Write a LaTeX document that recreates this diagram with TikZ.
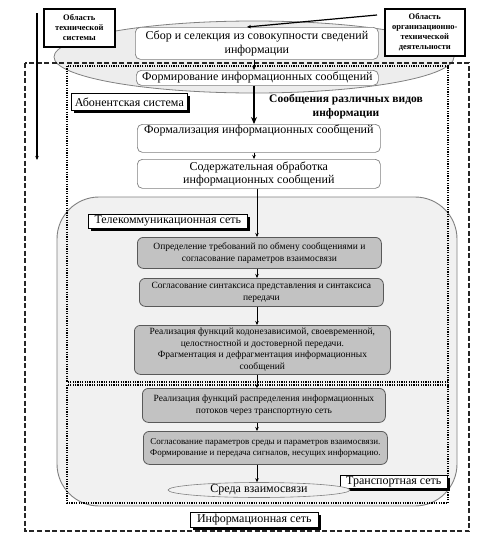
\documentclass[tikz,border=0pt]{standalone}
\usepackage{fontspec}
\setmainfont{Liberation Serif}
\newfontfamily\lserif{Liberation Serif}
\usetikzlibrary{arrows.meta,shadows,shapes.geometric,calc}
\definecolor{ellfill}{HTML}{EDEDED}
\definecolor{regfill}{HTML}{F1F1F1}
\definecolor{grayfill}{HTML}{C2C2C2}
\definecolor{edgegray}{HTML}{808080}
\begin{document}
\begin{tikzpicture}[x=1pt,y=-1pt,
  every node/.style={font=\lserif},
  whitebox/.style={draw=edgegray, fill=white, rounded corners=5pt, align=center, inner sep=0.5pt, anchor=north west, line width=0.7pt, font=\lserif\fontsize{12}{13.5}\selectfont},
  graybox/.style={draw=black!65, fill=grayfill, rounded corners=6pt, align=center, inner sep=0.5pt, anchor=north west, line width=0.8pt, font=\lserif\fontsize{9.5}{11.5}\selectfont},
  tagbox/.style={draw=black, fill=white, inner sep=1pt, anchor=north west, line width=0.6pt, drop shadow={shadow xshift=2.5pt, shadow yshift=-2.5pt, fill=black, opacity=1}, font=\lserif\fontsize{12}{13}\selectfont},
  areabox/.style={draw=black, line width=1.6pt, fill=white, align=center, anchor=north west, inner sep=1pt, font=\lserif\bfseries\fontsize{8.5}{10}\selectfont},
  arr/.style={-{Stealth[length=4pt,width=3.5pt]}, line width=0.6pt},
  bigarr/.style={-{Stealth[length=7pt,width=6pt]}, line width=2.2pt},
  dashframe/.style={draw=black!85, line width=1.4pt, dash pattern=on 5pt off 2.5pt},
  dotframe/.style={draw=black, line width=1.3pt, dash pattern=on 1.2pt off 1.2pt},
]
\useasboundingbox (0,0) rectangle (493,541);

% telecom region
\draw[draw=edgegray, fill=regfill, line width=0.9pt, rounded corners=42pt] (57,197) rectangle (457,506);

% top ellipse
\node[ellipse, draw=edgegray, fill=ellfill, line width=0.8pt, minimum width=400pt, minimum height=72pt, inner sep=0pt] (topell) at (254,57) {};

% frames
\draw[dashframe] (25,63) rectangle (469,531);
\draw[dotframe] (67,66) rectangle (448,382);
\draw[dotframe] (67,385) rectangle (448,503);

% axes for vertical arrows
\coordinate (axA) at (254,0);
\coordinate (axB) at (257,0);

% white boxes
\node[whitebox, minimum width=243pt, minimum height=32pt] (sbor) at (135,27) {Сбор и селекция из совокупности сведений\\информации};
\node[whitebox, minimum width=242pt, minimum height=15pt] (form) at (136,70) {Формирование информационных сообщений};
\node[whitebox, minimum width=243pt, minimum height=28pt] (formal) at (137,124) {Формализация информационных сообщений\\\strut};
\node[whitebox, minimum width=243pt, minimum height=29pt] (sod) at (137,159) {Содержательная обработка\\информационных сообщений};

% tags
\node[tagbox, minimum width=116pt, minimum height=17pt] (abon) at (71,93) {Абонентская система};
\node[tagbox, minimum width=159pt, minimum height=14pt] (tel) at (88,214) {Телекоммуникационная сеть};
\node[tagbox, minimum width=107pt, minimum height=13pt] (trans) at (340,475) {Транспортная сеть};
\node[tagbox, minimum width=128pt, minimum height=15pt] (info) at (190,512) {Информационная сеть};

% message label
\node[align=center, font=\lserif\bfseries\fontsize{11.5}{14}\selectfont, inner sep=0pt] (msg) at (346,107) {Сообщения различных видов\\информации};

% gray boxes
\node[graybox, minimum width=244pt, minimum height=31pt] (g1) at (137,237) {Определение требований по обмену сообщениями и\\согласование параметров взаимосвязи};
\node[graybox, minimum width=244pt, minimum height=28pt] (g2) at (139,278) {Согласование синтаксиса представления и синтаксиса\\передачи};
\node[graybox, minimum width=256pt, minimum height=49pt] (g3) at (134,325) {Реализация функций кодонезависимой, своевременной,\\целостностной и достоверной передачи.\\Фрагментация и дефрагментация информационных\\сообщений};
\node[graybox, minimum width=243pt, minimum height=34pt] (g4) at (142,388) {Реализация функций распределения информационных\\потоков через транспортную сеть};
\node[graybox, minimum width=244pt, minimum height=33pt, font=\lserif\fontsize{9}{11.5}\selectfont] (g5) at (143,431) {Согласование параметров среды и параметров взаимосвязи.\\Формирование и передача сигналов, несущих информацию.};

% medium ellipse
\node[ellipse, draw=edgegray, fill=regfill, line width=0.6pt, minimum width=182pt, minimum height=15pt, inner sep=0pt, font=\lserif\fontsize{12}{13}\selectfont] (sreda) at (259,490) {Среда взаимосвязи};

% area boxes
\node[areabox, minimum width=71pt, minimum height=38pt] (obl1) at (43,8) {Область\\технической\\системы};
\node[areabox, minimum width=80pt, minimum height=47pt] (obl2) at (384,8) {Область\\организационно-\\технической\\деятельности};

% connectors
\coordinate (lt) at (37,13);
\coordinate (lb) at (37,160);
\draw[arr, line width=1.2pt] (lt) -- (lb);
\coordinate (o2s) at (377,15);
\coordinate (sbt) at (247,27);
\draw[arr, line width=1.2pt] (o2s) -- (sbt);

\draw[arr] (sbor.south -| axA) -- (form.north -| axA);
\draw[bigarr] (form.south -| axA) -- (formal.north -| axA);
\draw[arr] (formal.south -| axA) -- (sod.north -| axA);
\draw[arr] (sod.south -| axB) -- (g1.north -| axB);
\draw[arr] (g1.south -| axB) -- (g2.north -| axB);
\draw[arr] (g2.south -| axB) -- (g3.north -| axB);
\draw[arr] (g3.south -| axB) -- (g4.north -| axB);
\draw[arr] (g4.south -| axB) -- (g5.north -| axB);
\draw[arr] (g5.south -| axB) -- (sreda.north -| axB);
\end{tikzpicture}
\end{document}
